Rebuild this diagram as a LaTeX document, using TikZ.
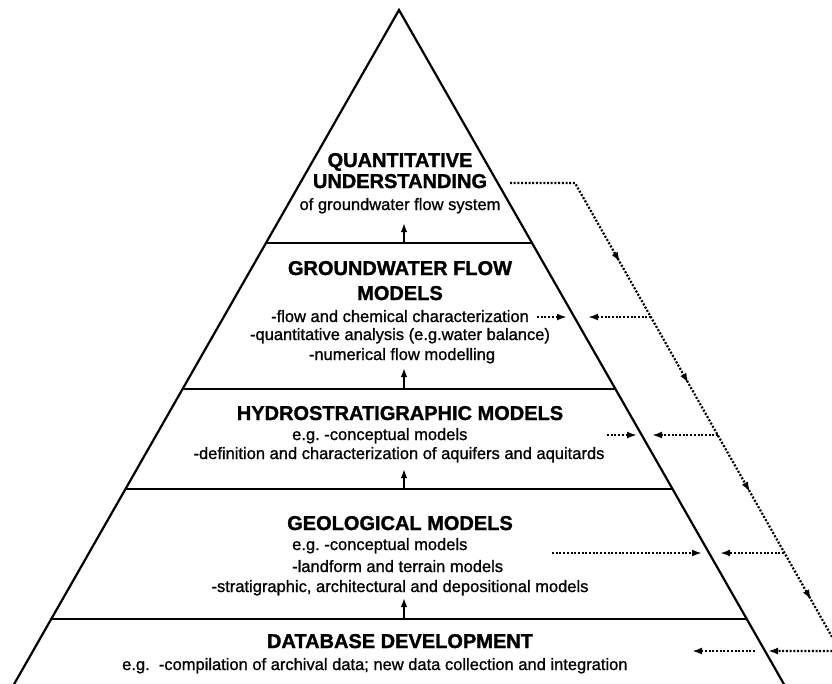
\documentclass[tikz,border=0pt]{standalone}
\usepackage{fontspec}
\setmainfont{Liberation Sans}[FakeBold=1.0, BoldFeatures={FakeBold=1.4}]
\usetikzlibrary{arrows.meta,decorations.markings}
\begin{document}
\begin{tikzpicture}[x=1pt,y=-1pt,
  edge/.style={line width=2.2pt},
  layerline/.style={line width=2.2pt},
  dots/.style={line width=2.2pt, dash pattern=on 2pt off 1.7pt},
  tipend/.style={-{Latex[length=10pt,width=7pt]}},
  uparrow/.style={line width=1.8pt,-{Latex[length=9pt,width=6.5pt]}},
  title/.style={font=\fontsize{20}{24}\selectfont\bfseries, anchor=base, inner sep=0pt},
  body/.style={font=\fontsize{16.5}{20}\selectfont, anchor=base, inner sep=0pt},
  bodyl/.style={body, anchor=base west},
  midtip/.style={postaction={decorate}, decoration={markings,
     mark=at position 156pt with {\arrow{Latex[length=10pt,width=7pt]}},
     mark=at position 295pt with {\arrow{Latex[length=10pt,width=7pt]}},
     mark=at position 420pt with {\arrow{Latex[length=10pt,width=7pt]}},
     mark=at position 544pt with {\arrow{Latex[length=10pt,width=7pt]}}}},
]
\useasboundingbox (0,0) rectangle (832,683);
\clip (0,0) rectangle (832,683);
\fill[white] (0,0) rectangle (832,683);

% pyramid
\coordinate (apex) at (399,10);
\coordinate (bl) at (5,700);
\coordinate (br) at (793,700);
\draw[edge, line join=miter] (bl) -- (apex) -- (br);

% layer boundaries
\coordinate (l1a) at (265.9,243); \coordinate (l1b) at (532.1,243);
\coordinate (l2a) at (182.4,389); \coordinate (l2b) at (615.6,389);
\coordinate (l3a) at (125.3,489); \coordinate (l3b) at (672.7,489);
\coordinate (l4a) at (51,619);    \coordinate (l4b) at (747,619);
\draw[layerline] (l1a) -- (l1b);
\draw[layerline] (l2a) -- (l2b);
\draw[layerline] (l3a) -- (l3b);
\draw[layerline] (l4a) -- (l4b);

% upward arrows
\coordinate (u1s) at (404,243); \coordinate (u1e) at (404,223);
\coordinate (u2s) at (404,389); \coordinate (u2e) at (404,368);
\coordinate (u3s) at (404,489); \coordinate (u3e) at (404,469);
\coordinate (u4s) at (404,619); \coordinate (u4e) at (404,598);
\draw[uparrow] (u1s) -- (u1e);
\draw[uparrow] (u2s) -- (u2e);
\draw[uparrow] (u3s) -- (u3e);
\draw[uparrow] (u4s) -- (u4e);

% texts
\node[title] (q1) at (400,167) {QUANTITATIVE};
\node[title] (q2) at (400,188) {UNDERSTANDING};
\node[body]  (q3) at (400,210) {of groundwater flow system};

\node[title] (g1) at (400,275) {GROUNDWATER FLOW};
\node[title] (g2) at (400,300) {MODELS};
\node[body]  (g3) at (400,322) {-flow and chemical characterization};
\node[body]  (g4) at (400,340) {-quantitative analysis (e.g.water balance)};
\node[body]  (g5) at (402,360) {-numerical flow modelling};

\node[title] (h1) at (400,420) {HYDROSTRATIGRAPHIC MODELS};
\node[bodyl] (h2) at (292,440) {e.g.\ -conceptual models};
\node[body]  (h3) at (399,459) {-definition and characterization of aquifers and aquitards};

\node[title] (e1) at (400,530) {GEOLOGICAL MODELS};
\node[bodyl] (e2) at (292,550) {e.g.\ -conceptual models};
\node[bodyl] (e3) at (292,572) {-landform and terrain models};
\node[body]  (e4) at (400,592) {-stratigraphic, architectural and depositional models};

\node[title] (d1) at (400,648) {DATABASE DEVELOPMENT};
\node[bodyl] (d2) at (122,670) {e.g.\ \ -compilation of archival data; new data collection and integration};

% dotted feedback path
\coordinate (fs) at (510,183);
\coordinate (fc) at (575,183);
\coordinate (fb) at (840,651);
\coordinate (fe) at (768,651);
\draw[dots, midtip, tipend] (fs) -- (fc) -- (fb) -- (fe);

% branches from the diagonal
\coordinate (b1s) at (651,317); \coordinate (b1e) at (588,317);
\coordinate (b2s) at (718,435); \coordinate (b2e) at (652,435);
\coordinate (b3s) at (784,553); \coordinate (b3e) at (720,553);
\draw[dots, tipend] (b1s) -- (b1e);
\draw[dots, tipend] (b2s) -- (b2e);
\draw[dots, tipend] (b3s) -- (b3e);

% inner arrows
\coordinate (i1s) at (537,317); \coordinate (i1e) at (567,317);
\coordinate (i2s) at (607,435); \coordinate (i2e) at (637,435);
\coordinate (i3s) at (552,553); \coordinate (i3e) at (702,553);
\coordinate (i4s) at (755,651); \coordinate (i4e) at (692,651);
\draw[dots, tipend] (i1s) -- (i1e);
\draw[dots, tipend] (i2s) -- (i2e);
\draw[dots, tipend] (i3s) -- (i3e);
\draw[dots, tipend] (i4s) -- (i4e);
\end{tikzpicture}
\end{document}
